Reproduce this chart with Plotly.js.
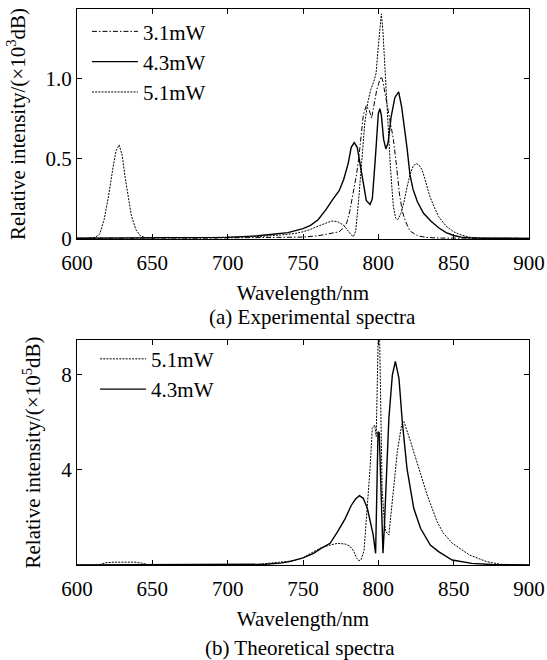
<!DOCTYPE html>
<html>
<head>
<meta charset="utf-8">
<script src="https://cdn.plot.ly/plotly-3.0.1.min.js"></script>
<style>
html,body{margin:0;padding:0;background:#fff}
#chart{width:547px;height:660px}
#chart svg text{font-family:'Liberation Serif','Times New Roman',Times,serif !important;}
</style>
</head>
<body>
<div id="chart"></div>
<script>
// ---------- (a) Experimental spectra ----------
const exp31Wl  = [600,620,640,660,680,700,720,740,750,760,766,770,774,777,779,781,782.5,784,785.5,787,788.5,790,792,794,795.5,797,799,801,802,803,804,806,808,810,812,814,816,818,821,826,832,840,860,880,900];
const exp31Int = [0.004,0.006,0.004,0.006,0.005,0.006,0.007,0.009,0.012,0.02,0.03,0.035,0.045,0.07,0.1,0.17,0.24,0.33,0.4,0.5,0.65,0.77,0.83,0.8,0.75,0.82,0.93,0.99,1.01,0.98,0.93,0.82,0.72,0.62,0.46,0.28,0.17,0.11,0.05,0.02,0.01,0.006,0.005,0.005,0.004];

const exp43Wl  = [600,620,640,660,680,700,710,720,730,740,750,755,760,765,770,774,777,780,782,784,786,788,790,792,794.5,796,798,800,801,802,803.5,805,806.5,808.5,811,813.5,815.5,817,819,821,823,826,830,835,840,845,850,855,860,870,885,900];
const exp43Int = [0.005,0.006,0.005,0.007,0.006,0.01,0.015,0.02,0.03,0.04,0.065,0.085,0.12,0.18,0.25,0.3,0.37,0.47,0.57,0.6,0.57,0.46,0.33,0.24,0.215,0.25,0.5,0.78,0.81,0.77,0.62,0.56,0.6,0.76,0.88,0.915,0.82,0.72,0.57,0.4,0.31,0.23,0.16,0.11,0.07,0.04,0.022,0.012,0.008,0.005,0.005,0.004];

const exp51Wl  = [600,608,612,615,618,621,624,626,628,630,632,634,636,639,642,646,660,680,700,720,735,745,750,755,760,765,769,773,777,780,782,783.5,785,787,789,791,793,795,797,798.5,800,801,802,803,804,805,806,807,808,809,810,811.5,813,815,817,819,821,823,825,827,829,831,834,837,840,845,850,855,860,865,880,900];
const exp51Int = [0.005,0.005,0.01,0.03,0.12,0.27,0.45,0.55,0.585,0.52,0.38,0.26,0.15,0.06,0.02,0.008,0.01,0.008,0.01,0.015,0.025,0.035,0.045,0.06,0.08,0.1,0.112,0.108,0.085,0.05,0.025,0.015,0.05,0.25,0.5,0.72,0.85,0.93,0.98,1.03,1.2,1.33,1.4,1.3,1.12,0.95,0.8,0.62,0.45,0.32,0.2,0.13,0.12,0.16,0.23,0.32,0.4,0.45,0.47,0.46,0.43,0.37,0.27,0.2,0.14,0.08,0.045,0.025,0.012,0.005,0.004,0.004];

// ---------- (b) Theoretical spectra ----------
const th51Wl  = [600,614,617,620,625,632,638,643,648,700,715,722,733,741,745,750,757,762,768.7,773,778,781,783.5,785.5,787,788.5,790.5,792.5,794.5,796,797.6,798.6,799.3,800,800.8,801.5,802.5,804,805,807,809.3,812.6,815.5,817,821.4,826.9,832.4,839,843,849,860.5,872,881,900];
const th51Int = [0,0,0.06,0.1,0.12,0.13,0.12,0.08,0,0,0,0.04,0.1,0.16,0.2,0.3,0.56,0.72,0.85,0.91,0.88,0.8,0.6,0.3,0.18,0.22,0.6,2.2,4.06,5.74,5.88,5.4,8.0,9.8,9.8,6.0,3.2,1.8,1.4,1.26,2.66,4.76,5.9,6.02,5.18,4.06,2.94,1.82,1.35,0.92,0.42,0.14,0.03,0];

const th43Wl  = [600,700,715,725,735,741,750,757,762,768,773,778,782,785,787.5,790,792.7,795,796.5,798.2,799.3,799.8,800.6,801.3,802.3,803.1,804,805,807,809.3,811.3,813.7,815.9,819,823.5,828,834.5,840,849,862,875,900];
const th43Int = [0,0,0.01,0.03,0.08,0.14,0.3,0.49,0.7,0.91,1.4,1.95,2.5,2.78,2.91,2.8,2.38,1.8,1.3,0.49,5.0,5.6,5.55,4.0,2.2,0.49,1.6,3.36,6.16,7.98,8.55,7.84,6.02,4.06,2.38,1.54,0.84,0.56,0.21,0.07,0.02,0];

// ---------- ticks & labels ----------
const xTickVals = [600,650,700,750,800,850,900];
const xTickText = ['600','650','700','750','800','850','900'];
const yTopTickVals = [0,0.5,1.0];
const yTopTickText = ['0','0.5','1.0'];
const yBotTickVals = [4,8];
const yBotTickText = ['4','8'];
const xTitle = 'Wavelength/nm';
const yTopTitle = 'Relative intensity/(×10<sup>3</sup>dB)';
const yBotTitle = 'Relative intensity/(×10<sup>5</sup>dB)';
const captionA = '(a) Experimental spectra';
const captionB = '(b) Theoretical spectra';

const F = 'Liberation Serif, Times New Roman, Times, serif';
const fnt = {family: F, size: 21, color: '#000'};
const DASHDOT = '5px,2px,1.5px,2px';
const DOT = '2px,1.2px';

const traces = [
  {x: exp31Wl, y: exp31Int, name: '3.1mW', xaxis: 'x', yaxis: 'y', legend: 'legend', mode: 'lines', line: {color: '#000', width: 1, dash: DASHDOT}},
  {x: exp43Wl, y: exp43Int, name: '4.3mW', xaxis: 'x', yaxis: 'y', legend: 'legend', mode: 'lines', line: {color: '#000', width: 1.4}},
  {x: exp51Wl, y: exp51Int, name: '5.1mW', xaxis: 'x', yaxis: 'y', legend: 'legend', mode: 'lines', line: {color: '#000', width: 1, dash: DOT}},
  {x: th51Wl, y: th51Int, name: '5.1mW', xaxis: 'x2', yaxis: 'y2', legend: 'legend2', mode: 'lines', line: {color: '#000', width: 1, dash: DOT}},
  {x: th43Wl, y: th43Int, name: '4.3mW', xaxis: 'x2', yaxis: 'y2', legend: 'legend2', mode: 'lines', line: {color: '#000', width: 1.4}}
];

const axCommon = {
  ticks: 'inside', ticklen: 5, tickwidth: 1, tickcolor: '#000',
  showline: true, linecolor: '#000', linewidth: 1, mirror: 'ticks',
  showgrid: false, zeroline: false, tickfont: fnt, fixedrange: true
};
const xCommon = Object.assign({}, axCommon, {
  range: [600, 900], tickmode: 'array', tickvals: xTickVals, ticktext: xTickText,
  ticklabelstandoff: 5,
  title: {text: xTitle, font: fnt, standoff: 11}
});

const legCommon = {
  xanchor: 'left', yanchor: 'top', bgcolor: 'rgba(0,0,0,0)', borderwidth: 0,
  font: fnt, itemwidth: 46, tracegroupgap: 0, traceorder: 'normal'
};

const layout = {
  width: 547, height: 660,
  margin: {l: 77, r: 18, t: 9, b: 95},
  paper_bgcolor: '#fff', plot_bgcolor: '#fff',
  font: fnt, showlegend: true,
  xaxis: Object.assign({}, xCommon, {anchor: 'y', domain: [0, 1]}),
  yaxis: Object.assign({}, axCommon, {anchor: 'x', domain: [0.5863, 1], range: [0, 1.43],
    tickmode: 'array', tickvals: yTopTickVals, ticktext: yTopTickText,
    title: {text: yTopTitle, font: fnt, standoff: 14}}),
  xaxis2: Object.assign({}, xCommon, {anchor: 'y2', domain: [0, 1]}),
  yaxis2: Object.assign({}, axCommon, {anchor: 'x2', domain: [0, 0.4047], range: [0, 9.45],
    tickmode: 'array', tickvals: yBotTickVals, ticktext: yBotTickText,
    title: {text: yBotTitle, font: fnt, standoff: 14}}),
  legend: Object.assign({}, legCommon, {x: 0.022, y: 0.996}),
  legend2: Object.assign({}, legCommon, {x: 0.04, y: 0.407}),
  annotations: [
    {text: captionA, xref: 'paper', yref: 'paper', x: 0.52, y: 0.446, xanchor: 'center', yanchor: 'middle', showarrow: false, font: fnt},
    {text: captionB, xref: 'paper', yref: 'paper', x: 0.493, y: -0.149, xanchor: 'center', yanchor: 'middle', showarrow: false, font: fnt}
  ]
};

Plotly.newPlot('chart', traces, layout, {displayModeBar: false, staticPlot: true});
</script>
</body>
</html>
